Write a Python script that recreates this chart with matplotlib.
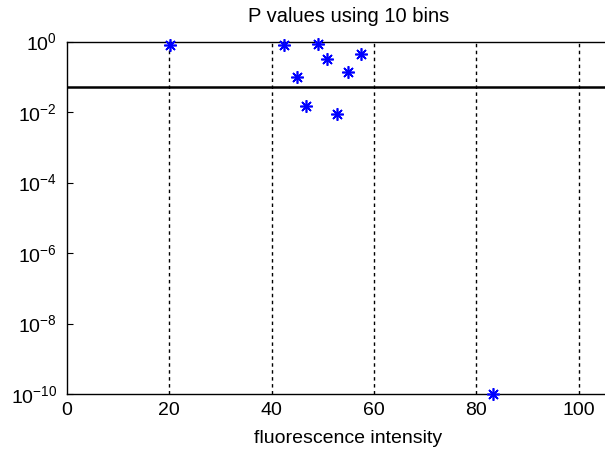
import numpy as np
import matplotlib.pyplot as plt
from matplotlib.ticker import FixedLocator, NullLocator

plt.rcParams['font.family'] = ['Liberation Sans', 'DejaVu Sans']
plt.rcParams['mathtext.fontset'] = 'custom'
plt.rcParams['mathtext.rm'] = 'Liberation Sans'
plt.rcParams['mathtext.it'] = 'Liberation Sans'

# fluorescence intensity of each bin and its p value
intensity = [20.1, 42.5, 49.0, 50.9, 57.5, 54.9, 44.9, 46.8, 52.8, 83.3]
p_values = [0.79, 0.81, 0.85, 0.31, 0.43, 0.137, 0.099, 0.015, 0.0089, 1e-10]
threshold = 0.05

x_ticks = [0, 20, 40, 60, 80, 100]
y_ticks = [1e-10, 1e-8, 1e-6, 1e-4, 1e-2, 1e0]

fig = plt.figure(figsize=(6.05, 4.53), dpi=100)
ax = fig.add_axes([66.8 / 605, (453 - 394) / 453, 563 / 605, (394 - 41.5) / 453])

ax.set_yscale('log')
ax.set_xlim(0, 110)
ax.set_ylim(1e-10, 1e0)

for xv in x_ticks[1:]:
    ax.axvline(xv, color='k', lw=1.0, ls=(0, (2.5, 2.5)), zorder=1)
ax.axhline(threshold, color='k', lw=1.8, zorder=2)

ax.plot(intensity, p_values, ls='none', marker=(8, 2, 0), ms=9, mew=1.2,
        color='blue', clip_on=False, zorder=3)

ax.xaxis.set_major_locator(FixedLocator(x_ticks))
ax.yaxis.set_major_locator(FixedLocator(y_ticks))
ax.yaxis.set_minor_locator(NullLocator())
ax.tick_params(direction='in', length=4, labelsize=14, top=False, right=False,
               colors='k')
ax.tick_params(axis='x', length=0, pad=6)
ax.tick_params(axis='y', pad=7)
for s in ['top', 'bottom', 'left', 'right']:
    ax.spines[s].set_linewidth(1.0)

ax.set_title('P values using 10 bins', fontsize=14.5, pad=14)
ax.set_xlabel('fluorescence intensity', fontsize=14, labelpad=8)

fig.savefig('out.png', dpi=100)
